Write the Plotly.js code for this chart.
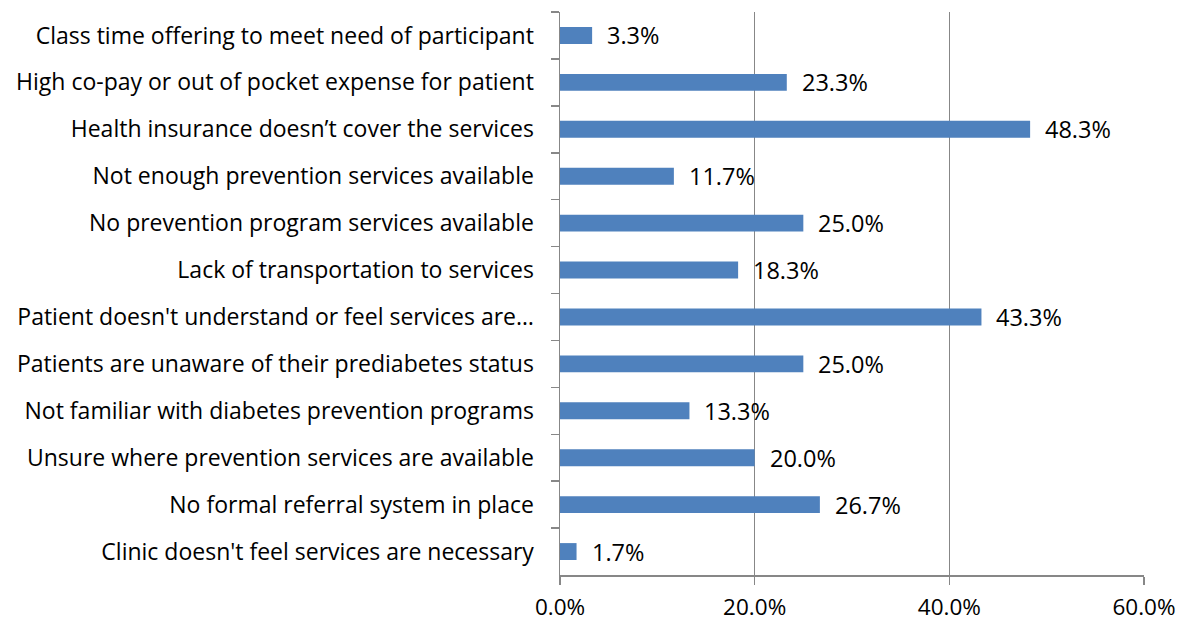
<!DOCTYPE html>
<html>
<head>
<meta charset="utf-8">
<script src="https://cdn.plot.ly/plotly-3.0.1.min.js"></script>
<style>html,body{margin:0;padding:0;background:#fff;}#chart{width:1188px;height:622px;}</style>
</head>
<body>
<div id="chart"></div>
<script>
const categories = [
  "Class time offering to meet need of participant",
  "High co-pay or out of pocket expense for patient",
  "Health insurance doesn\u2019t cover the services",
  "Not enough prevention services available",
  "No prevention program services available",
  "Lack of transportation to services",
  "Patient doesn't understand or feel services are\u2026",
  "Patients are unaware of their prediabetes status",
  "Not familiar with diabetes prevention programs",
  "Unsure where prevention services are available",
  "No formal referral system in place",
  "Clinic doesn't feel services are necessary"
];
const values = [3.3, 23.3, 48.3, 11.7, 25.0, 18.3, 43.3, 25.0, 13.3, 20.0, 26.7, 1.7];
const xTicks = [0, 20, 40, 60];

const font = "'Open Sans', sans-serif";
const annotations = categories.map((c, i) => ({
  x: values[i], y: c, xref: 'x', yref: 'y',
  text: values[i].toFixed(1) + '%', showarrow: false,
  xanchor: 'left', xshift: 13,
  font: {family: font, size: 23.5, color: '#000'}
}));

Plotly.newPlot('chart', [{
  type: 'bar', orientation: 'h',
  x: values, y: categories,
  marker: {color: '#4F81BD'},
  hoverinfo: 'none'
}], {
  width: 1188, height: 622,
  margin: {l: 560, r: 44, t: 12, b: 47, pad: 0},
  paper_bgcolor: '#fff', plot_bgcolor: '#fff',
  bargap: 0.64,
  showlegend: false,
  font: {family: font, size: 20, color: '#000'},
  xaxis: {
    range: [0, 60], tickvals: xTicks, ticktext: xTicks.map(v => v.toFixed(1) + '%'),
    showgrid: true, gridcolor: '#878787', gridwidth: 1.5,
    zeroline: false, showline: true, linecolor: '#878787', linewidth: 1.5,
    ticks: 'outside', ticklen: 8, tickcolor: '#878787', tickwidth: 1.5,
    ticklabelstandoff: 3,
    tickfont: {family: font, size: 22.5, color: '#000'}, mirror: false
  },
  yaxis: {
    type: 'category', autorange: 'reversed',
    showgrid: false, zeroline: false, showline: true, linecolor: '#878787', linewidth: 1.5,
    ticks: 'outside', tickson: 'boundaries', ticklen: 8, tickcolor: '#878787', tickwidth: 1.5,
    ticklabelstandoff: 20,
    tickfont: {family: font, size: 23, color: '#000'}
  },
  annotations: annotations
}, {staticPlot: true});
</script>
</body>
</html>
